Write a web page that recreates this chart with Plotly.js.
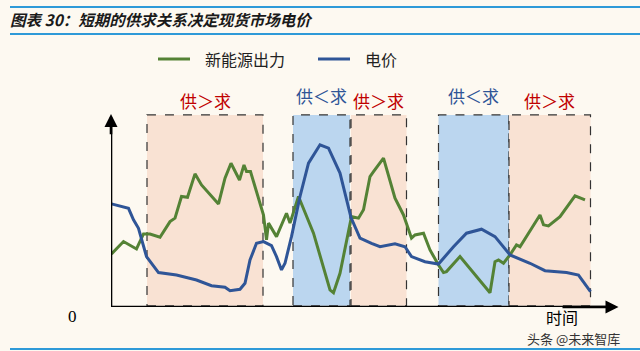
<!DOCTYPE html>
<html>
<head>
<meta charset="utf-8">
<script src="https://cdn.plot.ly/plotly-3.0.1.min.js"></script>
<style>
html,body{margin:0;padding:0;background:#FDF9F1;}
#chart{width:640px;height:351px;}
</style>
</head>
<body>
<div id="chart"></div>
<script>
// Time axis (arbitrary units) and values
const greenT = [0.1,2.5,5.1,6.5,7.8,9.8,11.8,12.8,14.1,15.3,16.8,18.1,21.5,22.8,24.0,25.7,26.6,27.1,27.9,30.5,31.1,31.5,33.1,35.1,35.8,37.5,40.5,43.8,44.5,45.8,48.1,49.5,50.5,51.8,52.5,54.5,56.8,58.5,60.1,60.8,62.5,63.8,65.5,66.5,67.1,69.8,75.8,76.8,77.5,78.5,79.8,81.1,81.8,85.8,86.5,87.5,89.8,92.8,94.8];
const greenV = [27.9,34.4,30.5,38.4,38.4,36.7,44.9,46.7,58.1,57.7,70.0,64.2,54.2,67.7,75.6,66.8,74.7,71.2,71.2,48.4,35.3,44.1,37.0,49.3,44.1,58.1,38.8,9.0,7.5,17.7,47.5,46.7,51.1,68.6,71.2,78.3,57.2,48.4,36.2,37.9,38.8,30.0,22.1,18.1,18.6,26.5,7.5,23.8,24.7,23.0,27.4,32.6,31.7,48.4,43.2,42.6,47.5,58.4,56.3];
const blueT = [0.1,3.5,4.5,5.5,7.1,9.5,13.1,17.1,20.1,22.8,23.8,25.8,26.8,27.8,29.1,30.5,32.1,33.1,34.1,34.8,36.1,37.8,39.5,41.8,43.5,45.8,48.0,49.8,52.1,53.8,56.8,58.8,60.1,62.8,65.5,68.5,71.1,74.1,76.8,79.8,83.8,86.8,91.1,93.5,95.9];
const blueV = [54.2,51.9,45.8,41.4,26.5,18.1,16.8,14.2,11.2,10.4,8.6,9.3,12.5,24.7,33.5,34.4,32.3,26.5,19.5,23.0,37.0,58.1,75.6,85.3,83.5,70.4,47.0,36.2,33.5,31.7,33.2,31.7,26.5,23.8,22.6,31.7,38.8,40.9,37.0,27.4,23.0,19.1,18.1,16.8,8.1];

// Supply/demand periods
const periodStart = [7.2, 36.4, 48.0, 65.5, 79.6];
const periodEnd   = [30.4, 47.8, 59.1, 79.6, 95.9];
const periodLabel = ["供＞求","供＜求","供＞求","供＜求","供＞求"];
const periodType  = ["over","under","over","under","over"];

const seriesNames = ["新能源出力","电价"];
const titleText = "图表 30：短期的供求关系决定现货市场电价";

const CJK = '"Noto Sans CJK SC", "Noto Sans", sans-serif';
const pink = 'rgb(249,226,211)';
const lightBlue = 'rgb(187,214,239)';
const red = 'rgb(192,0,0)';
const navy = 'rgb(47,85,151)';
const green = 'rgb(84,130,53)';

// pixel -> paper helpers (plot area: x 111..621, y 113..307)
const px = v => (v-111)/510;
const py = v => (307-v)/194;

const shapes = [];
const annotations = [];
periodStart.forEach((s,i)=>{
  shapes.push({type:'rect', xref:'x', yref:'y', x0:s, x1:periodEnd[i], y0:0.6, y1:101,
    fillcolor: periodType[i]==='over'?pink:lightBlue,
    line:{color:'#333', width:1.2, dash:'dash'}, layer:'below'});
  annotations.push({xref:'x', yref:'paper', x:(s+periodEnd[i])/2, xanchor:'center', yanchor:'middle',
    y: periodType[i]==='over' ? py(100) : py(95),
    text: periodLabel[i], showarrow:false,
    font:{family:CJK, size:17, color: periodType[i]==='over'?red:navy}});
});

// Title bar lines
[7, 34, 349].forEach(yy=>{
  shapes.push({type:'line', xref:'paper', yref:'paper',
    x0:px(10), x1:px(640), y0:py(yy), y1:py(yy),
    line:{color:'rgb(46,154,216)', width:2}});
});

// Axis lines
shapes.push({type:'line', xref:'x', yref:'y', x0:0, x1:0, y0:0, y1:99, line:{color:'#000', width:2.6}});
shapes.push({type:'line', xref:'x', yref:'y', x0:0, x1:99.5, y0:0, y1:0, line:{color:'#000', width:2.6}});
// Axis arrowheads
annotations.push({xref:'x', yref:'y', axref:'x', ayref:'y', x:0, y:101.5, ax:0, ay:90,
  showarrow:true, arrowhead:2, arrowsize:1, arrowwidth:2.6, arrowcolor:'#000', text:''});
annotations.push({xref:'x', yref:'y', axref:'x', ayref:'y', x:101.5, y:0, ax:90, ay:0,
  showarrow:true, arrowhead:2, arrowsize:1, arrowwidth:2.6, arrowcolor:'#000', text:''});

// Manual legend
const legendItems = [
  {name:seriesNames[0], color:green, x0:158, x1:190, tx:203},
  {name:seriesNames[1], color:navy, x0:318, x1:350, tx:363}
];
legendItems.forEach(it=>{
  shapes.push({type:'line', xref:'paper', yref:'paper', x0:px(it.x0), x1:px(it.x1), y0:py(59), y1:py(59),
    line:{color:it.color, width:3}});
  annotations.push({xref:'paper', yref:'paper', x:px(it.tx), xanchor:'left', y:py(59), yanchor:'middle',
    text:it.name, showarrow:false, font:{family:CJK, size:16, color:'#222'}});
});

// Axis labels
annotations.push({xref:'paper', yref:'paper', x:px(72), xanchor:'center', y:py(316), yanchor:'middle', text:'0',
  showarrow:false, font:{family:'"Liberation Serif", serif', size:17, color:'#000'}});
annotations.push({xref:'paper', yref:'paper', x:px(562), xanchor:'center', y:py(317), yanchor:'middle', text:'时间',
  showarrow:false, font:{family:CJK, size:16, color:'#000'}});
annotations.push({xref:'paper', yref:'paper', x:px(573), xanchor:'center', y:py(338), yanchor:'middle', text:'头条 @未来智库',
  showarrow:false, font:{family:CJK, size:13, color:'#333'}});

// Title
annotations.push({xref:'paper', yref:'paper', x:px(8), xanchor:'left', y:py(19), yanchor:'middle',
  text:'<b><i>'+titleText+'</i></b>', showarrow:false,
  font:{family:CJK, size:15.5, color:'#1a1a1a'}});

const traces = [
  {x:greenT, y:greenV, type:'scatter', mode:'lines', name:seriesNames[0],
   line:{color:green, width:3, shape:'linear'}},
  {x:blueT, y:blueV, type:'scatter', mode:'lines', name:seriesNames[1],
   line:{color:navy, width:3, shape:'linear'}}
];

const layout = {
  width:640, height:351,
  paper_bgcolor:'#FDF9F1', plot_bgcolor:'rgba(0,0,0,0)',
  margin:{l:111, r:19, t:113, b:44},
  showlegend:false,
  xaxis:{range:[0,102], showgrid:false, zeroline:false, showticklabels:false, ticks:'',
    showline:false, fixedrange:true},
  yaxis:{range:[0,102], showgrid:false, zeroline:false, showticklabels:false, ticks:'',
    showline:false, fixedrange:true},
  shapes:shapes, annotations:annotations
};

Plotly.newPlot('chart', traces, layout, {staticPlot:true, displayModeBar:false});
</script>
</body>
</html>
